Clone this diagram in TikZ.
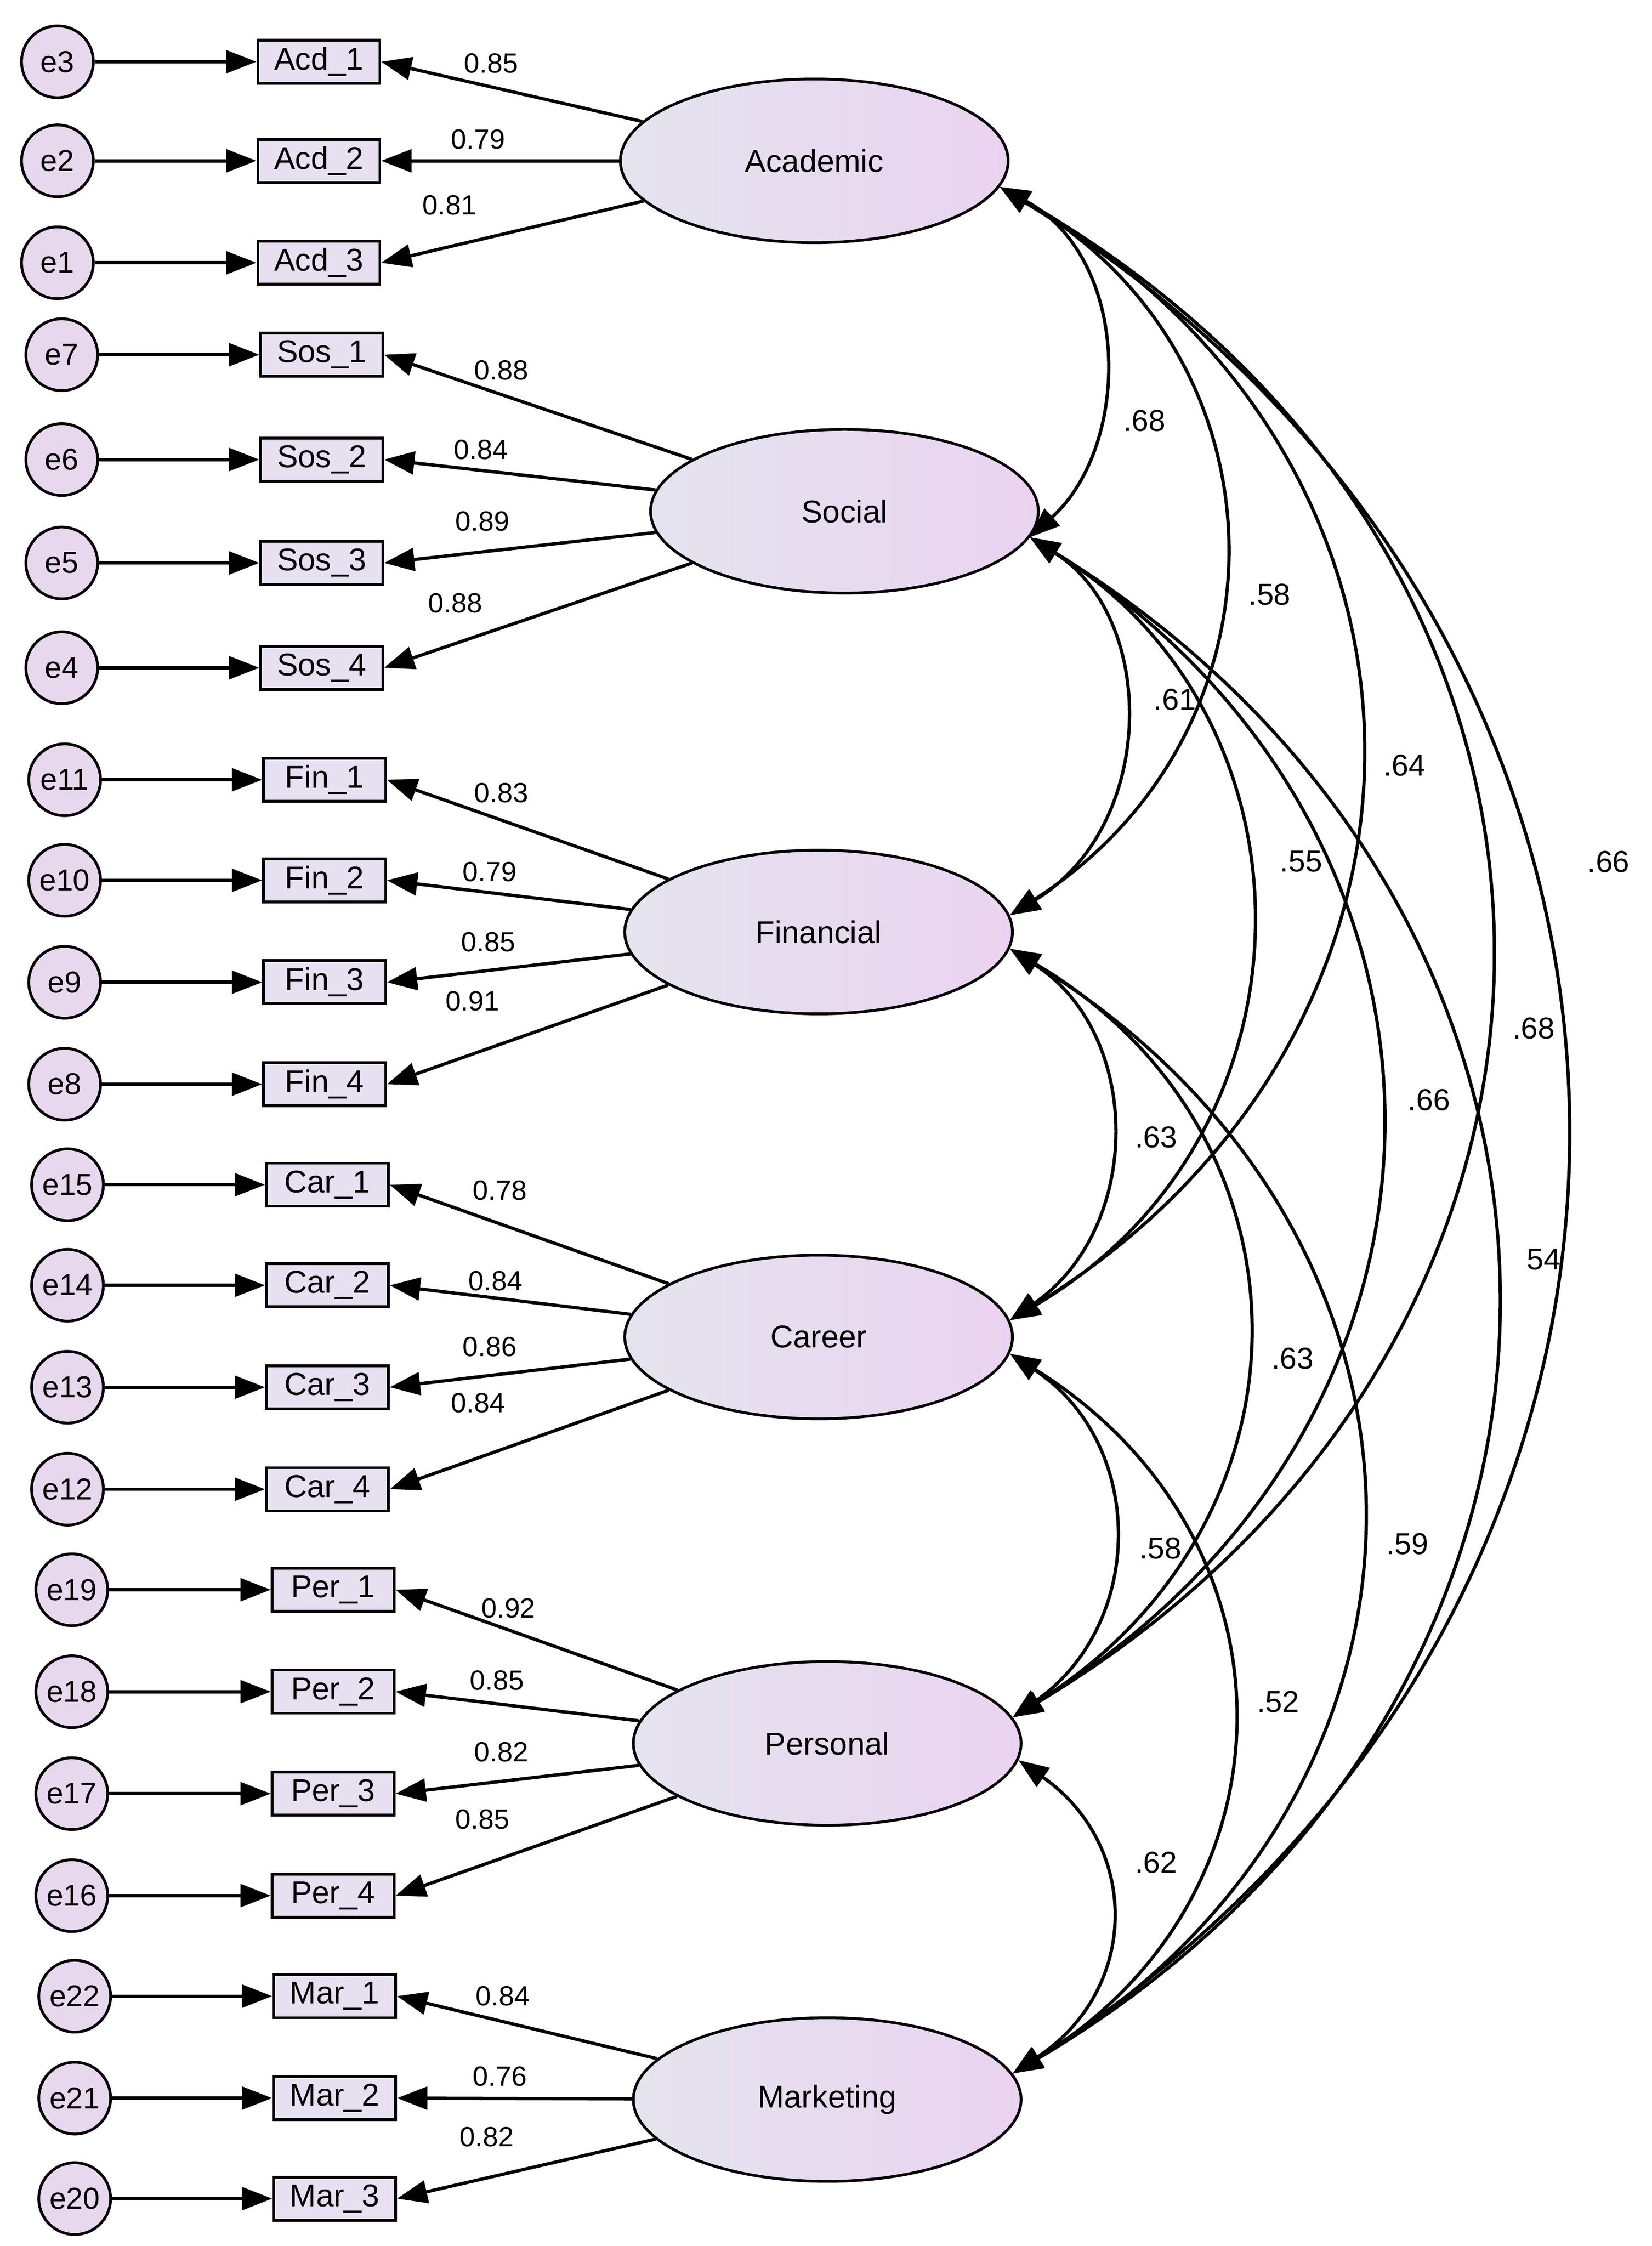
\documentclass[tikz,border=0pt]{standalone}
\usepackage{fontspec}
\setmainfont{Liberation Sans}
\usetikzlibrary{arrows.meta,shapes.geometric}
\begin{document}
\begin{tikzpicture}[x=0.02cm,y=-0.02cm,
 err/.style={circle,draw,line width=1.1pt,fill=errc,minimum size=50*0.02cm,inner sep=0pt,font=\fontsize{12}{14}\selectfont},
 obs/.style={rectangle,draw,line width=1.1pt,fill=boxc,minimum width=85*0.02cm,minimum height=30*0.02cm,inner sep=0pt,font=\fontsize{12.5}{14}\selectfont},
 lat/.style={ellipse,draw,line width=1.1pt,left color=ellL,right color=ellR,minimum width=270*0.02cm,minimum height=114*0.02cm,inner sep=0pt,font=\fontsize{12.5}{14}\selectfont},
 arr/.style={line width=1.3pt,-{Triangle[length=12pt,width=9pt]}},
 cov/.style={line width=1.3pt,{Triangle[length=12pt,width=9pt]}-{Triangle[length=12pt,width=9pt]}},
 lab/.style={font=\fontsize{11}{13}\selectfont,inner sep=1pt},
 clab/.style={font=\fontsize{12}{14}\selectfont,inner sep=1pt}]
\definecolor{errc}{HTML}{E8D8EE}
\definecolor{boxc}{HTML}{E6E0F0}
\definecolor{ellL}{HTML}{E4E4EE}
\definecolor{ellR}{HTML}{EAD3F0}
\useasboundingbox[fill=white] (0,0) rectangle (1150,1564);
\node[lat] (A) at (567,112) {Academic};
\node[lat] (S) at (588,356) {Social};
\node[lat] (F) at (570,649) {Financial};
\node[lat] (C) at (570,931) {Career};
\node[lat] (P) at (576,1214) {Personal};
\node[lat] (M) at (576,1462) {Marketing};
\foreach \e/\et/\b/\t/\y/\ex/\bx/\L/\v/\lx/\ly in {
 e3/e3/Acd1/Acd\_1/43/40/222/A/0.85/342/44,
 e2/e2/Acd2/Acd\_2/112/40/222/A/0.79/333/97,
 e1/e1/Acd3/Acd\_3/183/40/222/A/0.81/313/143,
 e7/e7/Sos1/Sos\_1/247/43/224/S/0.88/349/258,
 e6/e6/Sos2/Sos\_2/320/43/224/S/0.84/335/313,
 e5/e5/Sos3/Sos\_3/392/43/224/S/0.89/336/363,
 e4/e4/Sos4/Sos\_4/465/43/224/S/0.88/317/420,
 e11/e11/Fin1/Fin\_1/543/45/226/F/0.83/349/552,
 e10/e10/Fin2/Fin\_2/613/45/226/F/0.79/341/607,
 e9/e9/Fin3/Fin\_3/684/45/226/F/0.85/340/656,
 e8/e8/Fin4/Fin\_4/755/45/226/F/0.91/329/697,
 e15/e15/Car1/Car\_1/825/47/228/C/0.78/348/829,
 e14/e14/Car2/Car\_2/895/47/228/C/0.84/345/892,
 e13/e13/Car3/Car\_3/966/47/228/C/0.86/341/938,
 e12/e12/Car4/Car\_4/1037/47/228/C/0.84/333/977,
 e19/e19/Per1/Per\_1/1107/50/232/P/0.92/354/1120,
 e18/e18/Per2/Per\_2/1178/50/232/P/0.85/346/1170,
 e17/e17/Per3/Per\_3/1249/50/232/P/0.82/349/1220,
 e16/e16/Per4/Per\_4/1320/50/232/P/0.85/336/1267,
 e22/e22/Mar1/Mar\_1/1390/52/233/M/0.84/350/1390,
 e21/e21/Mar2/Mar\_2/1461/52/233/M/0.76/348/1446,
 e20/e20/Mar3/Mar\_3/1531/52/233/M/0.82/339/1488}{
 \node[err] (\e) at (\ex,\y) {\et};
 \node[obs] (\b) at (\bx,\y) {\t};
 \draw[arr] (\e) -- (\b.west);
 \draw[arr] (\L) -- (\b.east);
 \node[lab] (l\b) at (\lx,\ly) {\v};
}
% covariances
\draw[cov] (A.-8) .. controls (788,180) and (788,310) .. (S.-8);
\draw[cov] (A.-8) .. controls (902,250) and (902,510) .. (F.5);
\draw[cov] (A.-8) .. controls (1028,320) and (1028,720) .. (C.5);
\draw[cov] (A.-8) .. controls (1148,390) and (1148,930) .. (P.8);
\draw[cov] (A.-8) .. controls (1218,450) and (1218,1120) .. (M.8);
\draw[cov] (S.-8) .. controls (806,430) and (806,575) .. (F.5);
\draw[cov] (S.-8) .. controls (923,500) and (923,790) .. (C.5);
\draw[cov] (S.-8) .. controls (1043,580) and (1043,990) .. (P.8);
\draw[cov] (S.-8) .. controls (1150,640) and (1150,1180) .. (M.8);
\draw[cov] (F.-5) .. controls (796,720) and (796,855) .. (C.5);
\draw[cov] (F.-5) .. controls (922,790) and (922,1060) .. (P.8);
\draw[cov] (F.-5) .. controls (1028,860) and (1028,1250) .. (M.8);
\draw[cov] (C.-5) .. controls (798,1005) and (798,1130) .. (P.8);
\draw[cov] (C.-5) .. controls (908,1070) and (908,1320) .. (M.8);
\draw[cov] (P.-5) .. controls (794,1285) and (794,1385) .. (M.8);
\node[clab] (c1) at (797,293) {.68};
\node[clab] (c2) at (884,414) {.58};
\node[clab] (c3) at (978,533) {.64};
\node[clab] (c4) at (1068,716) {.68};
\node[clab] (c5) at (1120,600) {.66};
\node[clab] (c6) at (818,487) {.61};
\node[clab] (c7) at (906,600) {.55};
\node[clab] (c8) at (995,766) {.66};
\node[clab] (c9) at (1075,877) {54};
\node[clab] (c10) at (805,792) {.63};
\node[clab] (c11) at (900,946) {.63};
\node[clab] (c12) at (980,1075) {.59};
\node[clab] (c13) at (808,1078) {.58};
\node[clab] (c14) at (890,1185) {.52};
\node[clab] (c15) at (805,1297) {.62};
\end{tikzpicture}
\end{document}
